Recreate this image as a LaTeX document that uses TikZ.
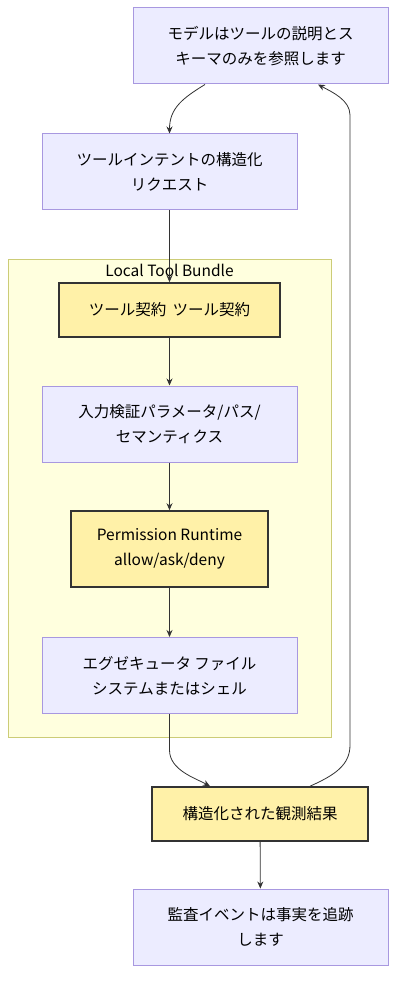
\documentclass[tikz,border=0pt]{standalone}
\usepackage{fontspec}
\setmainfont{Noto Sans CJK JP}
\usetikzlibrary{arrows.meta}
\definecolor{lavfill}{HTML}{ECECFF}
\definecolor{lavline}{HTML}{A898E0}
\definecolor{gatefill}{HTML}{FFF1A8}
\definecolor{bundlefill}{HTML}{FFFFDE}
\definecolor{bundleline}{HTML}{CCCC77}
\definecolor{edgeline}{HTML}{333333}
\tikzset{
  stepbox/.style={draw=lavline, fill=lavfill, line width=1pt, minimum width=255pt, minimum height=76pt, align=center, inner sep=0pt},
  gatebox/.style={draw=edgeline, fill=gatefill, line width=1.6pt, minimum height=54pt, align=center, inner sep=0pt},
  flow/.style={draw=edgeline, line width=0.8pt, -{Stealth[length=7pt,width=6pt]}}
}

\begin{document}
\begin{tikzpicture}[x=1pt, y=-1pt, font=\fontsize{15.5}{25}\selectfont]
    \useasboundingbox (0,0) rectangle (404,992);
    \fill[white] (0,0) rectangle (404,992);
    \draw[fill=bundlefill, draw=bundleline] (8,259) rectangle (331,737);
    \node (bundle) at (169.5,270) {Local Tool Bundle};
    \node[stepbox] (model) at (260.5,46) {モデルはツールの説明とス\\キーマのみを参照します};
    \node[stepbox] (intent) at (169.5,172) {ツールインテントの構造化\\リクエスト};
    \node[gatebox, minimum width=221pt] (contract) at (169.5,310) {ツール契約\hspace{0.4em}ツール契約};
    \node[stepbox] (validate) at (169.5,424) {入力検証パラメータ/パス/\\セマンティクス};
    \node[gatebox, minimum width=197pt, minimum height=76pt] (runtime) at (169.5,549) {Permission Runtime\\allow/ask/deny};
    \node[stepbox] (executor) at (169.5,675.5) {エグゼキュータ ファイル\\システムまたはシェル};
    \node[gatebox, minimum width=216pt] (observe) at (260,814) {構造化された観測結果};
    \node[stepbox] (audit) at (260.5,927) {監査イベントは事実を追跡\\します};
    \draw[flow] ([xshift=-55.5pt]model.south) .. controls (183,98) and (169.5,108) .. (intent.north);
    \draw[flow] (intent) -- (contract);
    \draw[flow] (contract) -- (validate);
    \draw[flow] (validate) -- (runtime);
    \draw[flow] (runtime) -- (executor);
    \draw[flow] (executor.south) -- (169.5,750) .. controls (169.5,770) and (195,778) .. ([xshift=-50pt]observe.north);
    \draw[flow] ([xshift=50pt]observe.north) .. controls (335,775) and (350,765) .. (350,745) -- (350,115) .. controls (350,100) and (332,92) .. ([xshift=57.5pt]model.south);
    \draw[flow] (observe) -- (audit);
\end{tikzpicture}
\end{document}
